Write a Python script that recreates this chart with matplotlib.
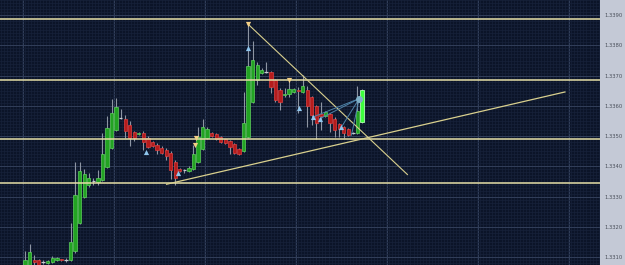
import numpy as np
import matplotlib
matplotlib.use("Agg")
import matplotlib.pyplot as plt
from matplotlib.ticker import MultipleLocator, FixedLocator

# candle data (one candle per bar, oldest first)
opens = [1.33064, 1.33070, 1.33092, 1.33089, 1.33084, 1.33082, 1.33085, 1.33090, 1.33093, 1.33090,
         1.33090, 1.33121, 1.33213, 1.33299, 1.33337, 1.33351, 1.33347, 1.33354, 1.33399, 1.33461,
         1.33520, 1.33561, 1.33558, 1.33537, 1.33515, 1.33507, 1.33509, 1.33495, 1.33479, 1.33472,
         1.33462, 1.33455, 1.33445, 1.33416, 1.33390, 1.33387, 1.33385, 1.33390, 1.33414, 1.33459,
         1.33494, 1.33509, 1.33506, 1.33498, 1.33489, 1.33484, 1.33474, 1.33459, 1.33451, 1.33498,
         1.33613, 1.33685, 1.33709, 1.33714, 1.33712, 1.33685, 1.33654, 1.33636, 1.33638, 1.33645,
         1.33651, 1.33646, 1.33654, 1.33628, 1.33599, 1.33573, 1.33566, 1.33572, 1.33558, 1.33539,
         1.33530, 1.33523, 1.33510, 1.33510, 1.33547]
highs = [1.33121, 1.33143, 1.33107, 1.33095, 1.33089, 1.33092, 1.33104, 1.33102, 1.33095, 1.33097,
         1.33213, 1.33413, 1.33414, 1.33391, 1.33378, 1.33361, 1.33387, 1.33511, 1.33566, 1.33622,
         1.33625, 1.33589, 1.33569, 1.33549, 1.33517, 1.33513, 1.33517, 1.33500, 1.33483, 1.33476,
         1.33466, 1.33460, 1.33450, 1.33420, 1.33395, 1.33392, 1.33400, 1.33470, 1.33530, 1.33558,
         1.33530, 1.33512, 1.33509, 1.33500, 1.33492, 1.33487, 1.33477, 1.33462, 1.33646, 1.33872,
         1.33815, 1.33744, 1.33725, 1.33745, 1.33716, 1.33690, 1.33660, 1.33658, 1.33685, 1.33660,
         1.33663, 1.33701, 1.33665, 1.33632, 1.33603, 1.33613, 1.33583, 1.33576, 1.33562, 1.33542,
         1.33533, 1.33526, 1.33515, 1.33665, 1.33655]
lows = [1.33057, 1.33050, 1.33074, 1.33065, 1.33078, 1.33078, 1.33082, 1.33088, 1.33087, 1.33083,
        1.33088, 1.33115, 1.33208, 1.33295, 1.33331, 1.33338, 1.33337, 1.33351, 1.33394, 1.33457,
        1.33517, 1.33555, 1.33493, 1.33466, 1.33483, 1.33504, 1.33454, 1.33460, 1.33463, 1.33442,
        1.33441, 1.33420, 1.33359, 1.33337, 1.33380, 1.33377, 1.33383, 1.33387, 1.33410, 1.33455,
        1.33490, 1.33497, 1.33486, 1.33478, 1.33473, 1.33442, 1.33440, 1.33437, 1.33447, 1.33494,
        1.33609, 1.33668, 1.33706, 1.33709, 1.33641, 1.33613, 1.33586, 1.33629, 1.33630, 1.33642,
        1.33577, 1.33643, 1.33530, 1.33536, 1.33489, 1.33519, 1.33563, 1.33514, 1.33497, 1.33497,
        1.33495, 1.33500, 1.33506, 1.33506, 1.33545]
closes = [1.33092, 1.33116, 1.33085, 1.33073, 1.33084, 1.33087, 1.33098, 1.33098, 1.33089, 1.33091,
          1.33150, 1.33305, 1.33385, 1.33374, 1.33361, 1.33352, 1.33362, 1.33440, 1.33527, 1.33577,
          1.33595, 1.33560, 1.33517, 1.33494, 1.33494, 1.33510, 1.33481, 1.33464, 1.33467, 1.33453,
          1.33444, 1.33434, 1.33389, 1.33363, 1.33385, 1.33387, 1.33396, 1.33440, 1.33498, 1.33529,
          1.33524, 1.33500, 1.33489, 1.33481, 1.33476, 1.33464, 1.33445, 1.33442, 1.33545, 1.33731,
          1.33753, 1.33735, 1.33720, 1.33713, 1.33663, 1.33619, 1.33613, 1.33640, 1.33655, 1.33656,
          1.33648, 1.33665, 1.33599, 1.33569, 1.33542, 1.33566, 1.33579, 1.33544, 1.33519, 1.33522,
          1.33510, 1.33503, 1.33511, 1.33582, 1.33652]

# horizontal support / resistance levels
levels = [1.33886, 1.33684, 1.33489, 1.33346]

# trend lines: (bar start, price start, bar end, price end)
down_trend = [49.0, 1.33870, 84.0, 1.33373]
up_trend = [31.1, 1.33341, 118.6, 1.33646]

# signal arrows
buy_x = [26.6, 33.7, 49.0, 60.1, 63.2, 64.8, 69.5]
buy_y = [1.33448, 1.33378, 1.33790, 1.33594, 1.33563, 1.33558, 1.33530]
sell_x = [37.5, 37.4, 49.0, 58.0]
sell_y = [1.33494, 1.33470, 1.33870, 1.33685]

# fan of blue lines from one point
fan_origin = (73.4, 1.33624)
fan_x = [63.2, 64.8, 69.5, 71.7]
fan_y = [1.33563, 1.33558, 1.33530, 1.33503]

price_ticks = [1.3310, 1.3320, 1.3330, 1.3340, 1.3350, 1.3360, 1.3370, 1.3380, 1.3390]

bg = '#0b1428'
fig = plt.figure(figsize=(6.25, 2.65), dpi=100, facecolor='#c4c9d6')
ax = fig.add_axes([0, 0, 600 / 625, 1])
ax.set_facecolor(bg)

n = len(opens)
x = np.arange(n)
o = np.array(opens)
c = np.array(closes)

# grid
ax.set_xlim(-5.5, 126.3)
ax.set_ylim(1.33074, 1.33950)
ax.xaxis.set_major_locator(FixedLocator(np.arange(-0.4, 130, 20)))
ax.xaxis.set_minor_locator(MultipleLocator(20 / 30))
ax.yaxis.set_major_locator(FixedLocator(price_ticks))
ax.yaxis.set_minor_locator(MultipleLocator(0.0001))
ax.grid(which='major', color='#323f5a', lw=0.7)
ax.grid(which='minor', color='#17223a', lw=0.5)
ax.set_axisbelow(True)

# wicks
ax.vlines(x, lows, highs, color='#8d95a3', lw=0.8, zorder=2)

# bodies
doji = np.abs(c - o) < 0.000025
up = (c > o) & ~doji
down = (c < o) & ~doji
last = np.zeros(n, bool)
last[-1] = True
ax.bar(x[up & ~last], (c - o)[up & ~last], bottom=o[up & ~last], width=0.72,
       color='#22a322', edgecolor='#5fd05f', lw=0.5, zorder=3)
ax.bar(x[down], (c - o)[down], bottom=o[down], width=0.72,
       color='#b51c1c', edgecolor='#dd4040', lw=0.5, zorder=3)
ax.bar(x[last], (c - o)[last], bottom=o[last], width=0.72,
       color='#3dff3d', edgecolor='#b0ffb0', lw=0.6, zorder=3)
ax.hlines(c[doji], x[doji] - 0.4, x[doji] + 0.4, color='#c8ccd0', lw=0.9, zorder=3)

# levels
for lv in levels:
    ax.axhline(lv, color='#e6dfa6', lw=1.1, zorder=4)

# trend lines
ax.plot([down_trend[0], down_trend[2]], [down_trend[1], down_trend[3]],
        color='#d9d08e', lw=0.8, zorder=4)
ax.plot([up_trend[0], up_trend[2]], [up_trend[1], up_trend[3]],
        color='#d9d08e', lw=0.9, zorder=4)

# fan
for fx, fy in zip(fan_x, fan_y):
    ax.plot([fan_origin[0], fx], [fan_origin[1], fy], color='#4f84aa', lw=0.7, zorder=5)
ax.scatter([fan_origin[0]], [fan_origin[1]], s=16, color='#7fb0c8', zorder=6)

# arrows
ax.scatter(buy_x, buy_y, marker='^', s=14, color='#8fc6ee', zorder=6, lw=0)
ax.scatter(sell_x, sell_y, marker='v', s=14, color='#f3cf86', zorder=6, lw=0)

# price axis
ax.yaxis.tick_right()
ax.tick_params(axis='y', which='both', length=0, pad=3.5, labelsize=3.8, labelcolor='#4a4f5a')
ax.tick_params(axis='x', which='both', length=0, labelbottom=False)
ax.set_yticklabels(['%.4f' % t for t in price_ticks])
for s in ax.spines.values():
    s.set_visible(False)

fig.savefig('out.png', dpi=100, facecolor=fig.get_facecolor())
